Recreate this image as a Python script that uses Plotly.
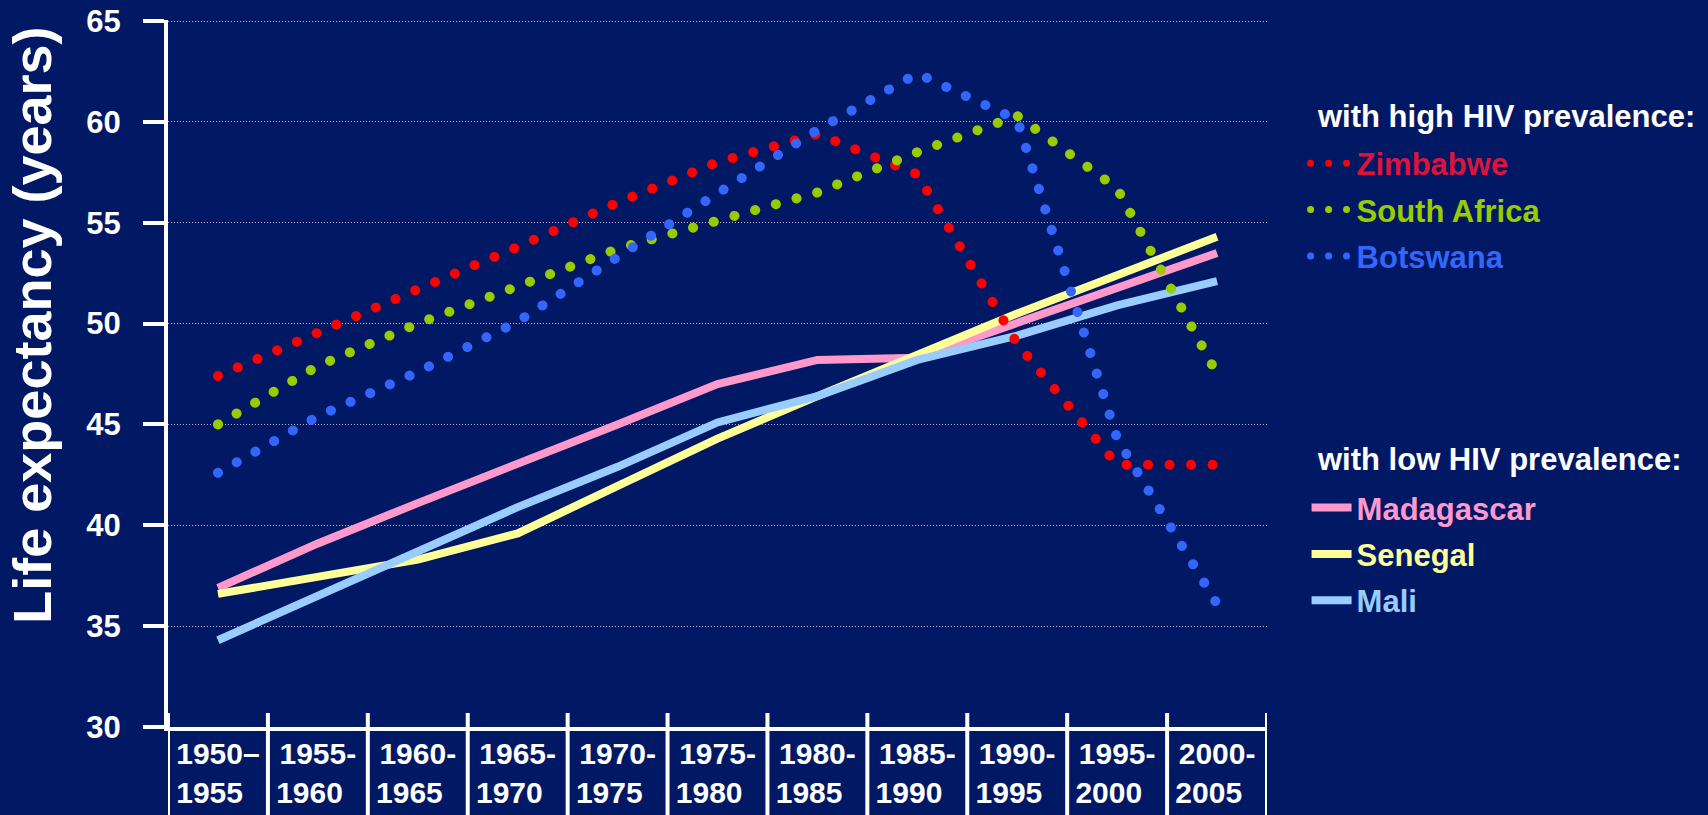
import plotly.graph_objects as go

# --- datos ---
periodos = ["1950–1955", "1955-1960", "1960-1965", "1965-1970", "1970-1975", "1975-1980",
            "1980-1985", "1985-1990", "1990-1995", "1995-2000", "2000-2005"]

# alta prevalencia de VIH
zimbabwe = [47.4, 49.6, 51.7, 53.8, 56.0, 58.0, 59.4, 57.4, 49.0, 43.0, 43.0]
sudafrica = [45.0, 47.9, 50.0, 51.9, 53.7, 55.1, 56.5, 58.5, 60.3, 56.7, 47.5]
botswana = [42.6, 45.4, 47.6, 50.1, 53.3, 56.4, 59.6, 62.4, 60.1, 44.3, 36.1]

# baja prevalencia de VIH
madagascar = [36.9, 39.1, 41.1, 43.0, 45.0, 47.0, 48.2, 48.3, 50.0, 51.8, 53.5]
senegal = [36.6, 37.5, 38.3, 39.6, 41.9, 44.3, 46.4, 48.5, 50.5, 52.4, 54.3]
mali = [34.3, 36.5, 38.7, 40.9, 42.9, 45.1, 46.4, 48.2, 49.4, 50.9, 52.1]

FONDO = '#011864'
PUNTOS = '0.1px,21.4px'
ALTO_PLOT = 707  # alto del área de trazado en px (margen t=20, b=88)

# etiqueta en dos líneas: "1950–" / "1955"
etiquetas = [p[:5] + '<br>' + p[5:] + '\u00a0\u00a0' for p in periodos]

fig = go.Figure()

def serie(nombre, valores, color, color_txt, punteada, leyenda):
    fig.add_trace(go.Scatter(
        x=etiquetas, y=valores, mode='lines',
        name=f"<span style='color:{color_txt}'>{nombre}</span>",
        legend=leyenda, legendgroup=nombre,
        line=dict(color=color, width=10 if punteada else 8,
                  dash=PUNTOS if punteada else 'solid'),
        hoverinfo='skip',
    ))

serie('Madagascar', madagascar, '#FF99CC', '#FF99CC', False, 'legend2')
serie('Senegal', senegal, '#FFFF99', '#FFFF99', False, 'legend2')
serie('Mali', mali, '#99CCFF', '#99CCFF', False, 'legend2')
serie('Zimbabwe', zimbabwe, '#FF0000', '#DC143C', True, 'legend')
serie('South Africa', sudafrica, '#99CC00', '#99CC00', True, 'legend')
serie('Botswana', botswana, '#3366FF', '#3366FF', True, 'legend')

# separadores verticales entre periodos (bajo el eje x)
for i in range(len(etiquetas) + 1):
    fig.add_shape(type='line', xref='x', yref='paper', x0=i - 0.5, x1=i - 0.5,
                  y0=14 / ALTO_PLOT, y1=-88 / ALTO_PLOT,
                  line=dict(color='white', width=4), layer='above')

fuente = dict(family='Arial, Liberation Sans, sans-serif', color='white', weight='bold')

fig.update_layout(
    width=1708, height=815,
    paper_bgcolor=FONDO, plot_bgcolor=FONDO,
    margin=dict(l=168, r=441, t=20, b=88, autoexpand=False),
    font=dict(**fuente, size=30),
    xaxis=dict(
        type='category', categoryorder='array', categoryarray=etiquetas,
        range=[-0.5, len(etiquetas) - 0.5],
        ticks='', showline=True, linewidth=4, linecolor='white', showgrid=False,
        tickfont=dict(size=30), ticklabelstandoff=-3,
    ),
    yaxis=dict(
        range=[30, 65.05], tick0=30, dtick=5,
        ticks='outside', ticklen=21, tickwidth=4, tickcolor='white',
        showline=True, linewidth=4, linecolor='white', zeroline=False,
        showgrid=True, gridcolor='#B8B8CC', gridwidth=1, griddash='1px,2px',
        tickfont=dict(size=31), ticklabelstandoff=16,
    ),
    legend=dict(
        x=1.036, y=0.835, xanchor='left', yanchor='top', bgcolor='rgba(0,0,0,0)',
        font=dict(size=31), itemwidth=40, tracegroupgap=3,
    ),
    legend2=dict(
        x=1.036, y=0.348, xanchor='left', yanchor='top', bgcolor='rgba(0,0,0,0)',
        font=dict(size=31), itemwidth=40, tracegroupgap=3,
    ),
    showlegend=True,
    annotations=[
        dict(text='Life expectancy (years)', textangle=-90, xref='paper', yref='paper',
             x=-0.1235, y=0.568, xanchor='center', yanchor='middle', showarrow=False,
             font=dict(size=54)),
        dict(text='with high HIV prevalence:', xref='paper', yref='paper',
             x=1.0437, y=0.863, xanchor='left', yanchor='middle', showarrow=False,
             font=dict(size=31)),
        dict(text='with low HIV prevalence:', xref='paper', yref='paper',
             x=1.0437, y=0.378, xanchor='left', yanchor='middle', showarrow=False,
             font=dict(size=31)),
    ],
)

# puntos redondos para las líneas punteadas (y tres puntos pequeños en la leyenda)
script = """
document.body.style.margin = '0';
var gd = document.getElementById('{plot_id}');
function redondear() {
  gd.querySelectorAll('path.js-line').forEach(function (p) {
    if (String(p.style.strokeDasharray).indexOf('0.1') >= 0) {
      p.style.strokeLinecap = 'round';
      if (p.closest('.legend')) {
        p.setAttribute('d', 'M4,0h36');
        p.style.strokeWidth = '7px';
        p.style.strokeDasharray = '0.1px,17.9px';
      }
    }
  });
}
redondear();
gd.on('plotly_afterplot', redondear);
"""

fig.write_html("out.html", post_script=script, config={'displayModeBar': False})
